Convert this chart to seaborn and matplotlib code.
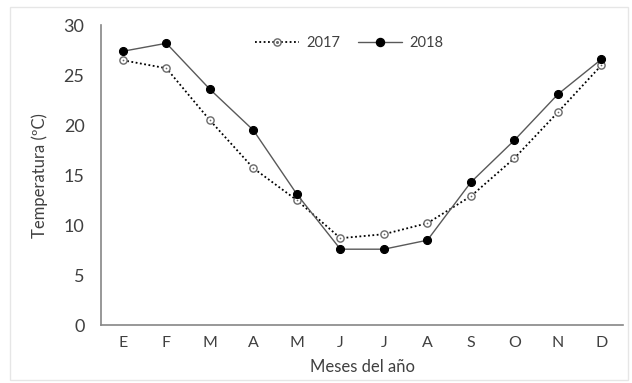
import matplotlib
matplotlib.use("Agg")
import matplotlib.pyplot as plt
import seaborn as sns
import pandas as pd
from matplotlib.lines import Line2D
from matplotlib.patches import Rectangle
from matplotlib.legend_handler import HandlerTuple

# Monthly mean temperature (ºC)
meses = ["E", "F", "M", "A", "M", "J", "J", "A", "S", "O", "N", "D"]
temp_2017 = [26.5, 25.7, 20.5, 15.7, 12.5, 8.7, 9.1, 10.2, 12.9, 16.7, 21.3, 26.0]
temp_2018 = [27.4, 28.2, 23.6, 19.5, 13.1, 7.6, 7.6, 8.5, 14.3, 18.5, 23.1, 26.6]
y_ticks = [0, 5, 10, 15, 20, 25, 30]

pos = list(range(len(meses)))
df17 = pd.DataFrame({"mes": pos, "temp": temp_2017})
df18 = pd.DataFrame({"mes": pos, "temp": temp_2018})

sns.set_theme(style="white")
plt.rcParams["font.family"] = ["Lato", "DejaVu Sans"]

axis_grey = "#868686"
text_col = "#404040"
dots = (0, (1, 1.4))

fig = plt.figure(figsize=(6.32, 3.83), dpi=100)
ax = fig.add_axes([0.160, 0.151, 0.826, 0.783])

# 2017: dotted line, open circles with a centre dot
sns.lineplot(data=df17, x="mes", y="temp", ax=ax, color="black",
             linestyle=dots, linewidth=1.3, marker="o", markersize=5.2,
             markerfacecolor="white", markeredgecolor="#6a6a6a",
             markeredgewidth=1.0, zorder=3)
sns.scatterplot(data=df17, x="mes", y="temp", ax=ax, color="#6a6a6a",
                s=1.5, linewidth=0, zorder=4)

# 2018: solid grey line, filled black circles
sns.lineplot(data=df18, x="mes", y="temp", ax=ax, color="#595959",
             linewidth=1.0, marker="o", markersize=5.8,
             markerfacecolor="black", markeredgecolor="black", zorder=5)

ax.set_xlim(-0.5, len(meses) - 0.5)
ax.set_ylim(0, 30)

# category boundaries as tick marks, labels centred on each month
ax.set_xticks([i - 0.5 for i in range(len(meses) + 1)])
ax.set_xticklabels([])
ax.set_xticks(pos, minor=True)
ax.set_xticklabels(meses, minor=True)
ax.set_yticks(y_ticks)
ax.set_yticklabels([str(v) for v in y_ticks])

ax.tick_params(axis="x", which="major", direction="in", length=4,
               width=1.0, color=axis_grey)
ax.tick_params(axis="x", which="minor", length=0, pad=8,
               labelsize=11.5, labelcolor=text_col)
ax.tick_params(axis="y", which="major", direction="in", length=5,
               width=1.0, color=axis_grey, pad=12,
               labelsize=13, labelcolor=text_col)

for side in ("top", "right"):
    ax.spines[side].set_visible(False)
for side in ("left", "bottom"):
    ax.spines[side].set_color(axis_grey)
    ax.spines[side].set_linewidth(1.2)

ax.set_xlabel("Meses del año", fontsize=12, color=text_col, labelpad=6)
ax.set_ylabel("Temperatura (ºC)", fontsize=12, color=text_col)
ax.yaxis.set_label_coords(-0.102, 0.5)

h17 = (Line2D([], [], color="black", linestyle=dots, linewidth=1.3,
              marker="o", markersize=5.2, markerfacecolor="white",
              markeredgecolor="#6a6a6a"),
       Line2D([], [], linestyle="none", marker="o", markersize=1.2,
              color="#6a6a6a"))
h18 = Line2D([], [], color="#595959", linewidth=1.0, marker="o",
             markersize=5.8, markerfacecolor="black", markeredgecolor="black")
ax.legend([h17, h18], ["2017", "2018"], loc="center",
          bbox_to_anchor=(0.475, 0.94), ncol=2, frameon=False,
          fontsize=10.5, handlelength=3.0, columnspacing=1.2,
          handletextpad=0.5, labelcolor=text_col,
          handler_map={tuple: HandlerTuple(ndivide=1)})

# faint chart-area border
fig.patches.append(Rectangle((10 / 632, 3 / 383), 618 / 632, 373 / 383,
                             transform=fig.transFigure, fill=False,
                             edgecolor="#e6e6e6", linewidth=1.0))

fig.savefig("out.png", dpi=100)
